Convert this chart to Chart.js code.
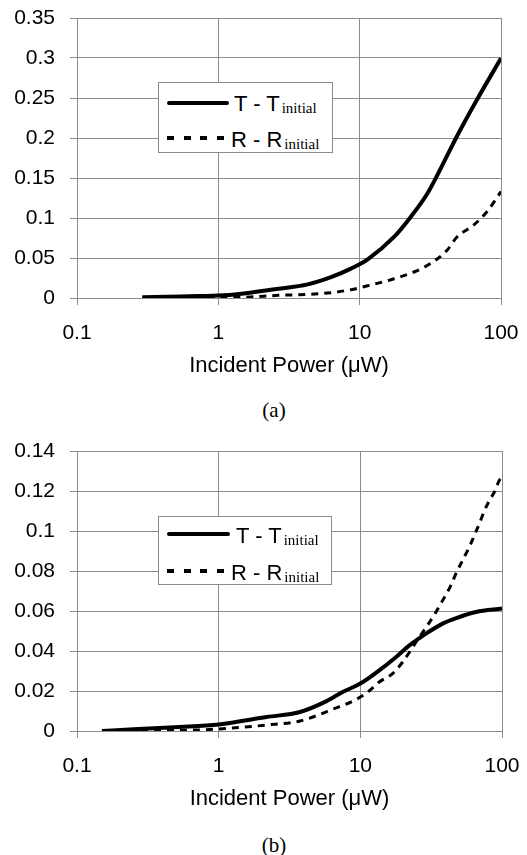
<!DOCTYPE html>
<html>
<head>
<meta charset="utf-8">
<script src="https://cdn.jsdelivr.net/npm/chart.js@4.4.1/dist/chart.umd.min.js"></script>
<style>
    body { margin: 0; background: #fff; }
    #wrap { position: relative; width: 527px; height: 855px; overflow: hidden; }
    canvas { position: absolute; left: 0; }
    .legend { position: absolute; border: 1px solid #8a8a8a; background: #fff; box-sizing: border-box; }
    .legend .swatch { position: absolute; height: 4px; }
    .legend .solid { background: #000; border-radius: 2px; }
    .legend .dash { background: repeating-linear-gradient(to right, #000 0 7px, transparent 7px 16.7px); }
    .legend .txt { position: absolute; font: 22px "Liberation Sans", Arial, sans-serif; line-height: 22px; white-space: nowrap; color: #000; }
    .legend sub { font: 15px "Liberation Serif", "Times New Roman", serif; vertical-align: -2px; margin-left: 2px; }
    .caption { position: absolute; left: 234px; width: 80px; text-align: center; font: 21px "Liberation Serif", "Times New Roman", serif; line-height: 24px; color: #000; }
</style>
</head>
<body>
<div id="wrap">
    <canvas id="chart-a" width="527" height="390" style="top:0px"></canvas>
    <div class="legend" style="left:158px;top:82px;width:175px;height:71px">
        <div class="swatch solid" style="left:8px;top:18px;width:62px"></div>
        <div class="txt" style="left:75px;top:10px">T - T<sub>initial</sub></div>
        <div class="swatch dash" style="left:8px;top:53px;width:57px"></div>
        <div class="txt" style="left:72px;top:46px">R - R<sub>initial</sub></div>
    </div>
    <div class="caption" style="top:398px">(a)</div>

    <canvas id="chart-b" width="527" height="390" style="top:433px"></canvas>
    <div class="legend" style="left:158px;top:516px;width:174px;height:69px">
        <div class="swatch solid" style="left:8px;top:15px;width:63px"></div>
        <div class="txt" style="left:77px;top:8px">T - T<sub>initial</sub></div>
        <div class="swatch dash" style="left:8px;top:52px;width:57px"></div>
        <div class="txt" style="left:72px;top:45px">R - R<sub>initial</sub></div>
    </div>
    <div class="caption" style="top:833px">(b)</div>
</div>

<script>
// Datos (potencia incidente en µW)
const xTicks = [0.1, 1, 10, 100];
const xTitle = 'Incident Power (\u03bcW)';

// (a)
const powerTa = [0.29, 0.54, 0.72, 1, 1.46, 2.5, 4.3, 6.27, 8.67, 11.4, 17.5, 22.9, 30, 35.3, 48.6, 67.4, 100];
const deltaTa = [0.001, 0.002, 0.0025, 0.003, 0.0054, 0.011, 0.017, 0.026, 0.0367, 0.0483, 0.0763, 0.101, 0.13, 0.153, 0.2016, 0.2475, 0.2996];
const powerRa = [0.29, 1, 1.54, 2.64, 4.3, 6.27, 8.67, 11.7, 17.5, 24.2, 31.7, 41.5, 48.8, 63.7, 79.2, 100];
const deltaRa = [0, 0.0005, 0.001, 0.0033, 0.0046, 0.0067, 0.0104, 0.0158, 0.024, 0.0325, 0.043, 0.0596, 0.0763, 0.0908, 0.1075, 0.133];
const yTicksA = { max: 0.35, step: 0.05 };

// (b)
const powerTb = [0.15, 0.25, 0.53, 1, 2.18, 3.75, 5.73, 7.5, 10, 13.6, 17.9, 22.2, 29.1, 38.1, 50, 65.5, 100];
const deltaTb = [0, 0.0009, 0.002, 0.0033, 0.007, 0.0095, 0.0148, 0.0195, 0.0237, 0.0303, 0.037, 0.0428, 0.0487, 0.0537, 0.057, 0.0595, 0.0612];
const powerRb = [0.15, 0.7, 1, 2.18, 3.75, 6.55, 9.07, 11.3, 13.6, 16.9, 19.9, 26.1, 29.9, 34.2, 38.1, 43.6, 47.3, 52.7, 58.8, 63.8, 69.2, 75, 81.5, 88.4, 95.7, 100];
const deltaRb = [0, 0.0005, 0.001, 0.003, 0.005, 0.0112, 0.0153, 0.0195, 0.0245, 0.0287, 0.0345, 0.047, 0.053, 0.0595, 0.0653, 0.0728, 0.0787, 0.0853, 0.092, 0.0978, 0.1037, 0.11, 0.1153, 0.1195, 0.1253, 0.127];
const yTicksB = { max: 0.14, step: 0.02 };

Chart.defaults.font.family = '"Liberation Sans", Arial, sans-serif';
Chart.defaults.color = '#000';

function toPoints(xs, ys) {
    return xs.map((x, i) => ({ x: x, y: ys[i] }));
}

// Quitar el relleno automático de las escalas: el área del gráfico la fija layout.padding
function noScalePadding(scale) {
    scale.paddingTop = 0;
    scale.paddingBottom = 0;
    scale.paddingLeft = 0;
    scale.paddingRight = 0;
}

function initPowerChart(id, powerT, deltaT, powerR, deltaR, yTicks, padRight) {
    const ctx = document.getElementById(id);
    const gridColor = '#8c8c8c';

    new Chart(ctx, {
        type: 'line',
        data: {
            datasets: [{
                label: 'T - T initial',
                data: toPoints(powerT, deltaT),
                borderColor: '#000',
                borderWidth: 4,
                pointRadius: 0,
                cubicInterpolationMode: 'monotone',
                fill: false
            }, {
                label: 'R - R initial',
                data: toPoints(powerR, deltaR),
                borderColor: '#000',
                borderWidth: 3,
                borderDash: [7, 6],
                pointRadius: 0,
                cubicInterpolationMode: 'monotone',
                fill: false
            }]
        },
        options: {
            responsive: false,
            animation: false,
            devicePixelRatio: 1,
            layout: {
                padding: { top: 18, right: padRight, bottom: 2, left: 0 }
            },
            plugins: {
                legend: { display: false },
                tooltip: { enabled: false }
            },
            scales: {
                x: {
                    type: 'logarithmic',
                    min: 0.1,
                    max: 100,
                    afterBuildTicks: function(scale) {
                        scale.ticks = xTicks.map(v => ({ value: v, major: true }));
                    },
                    afterFit: function(scale) {
                        scale.height = 90;
                        noScalePadding(scale);
                    },
                    grid: {
                        color: gridColor,
                        lineWidth: 1,
                        tickLength: 7
                    },
                    border: { color: gridColor, width: 1 },
                    ticks: {
                        padding: 16,
                        maxRotation: 0,
                        font: { size: 21 },
                        callback: function(value) {
                            return String(value);
                        }
                    },
                    title: {
                        display: true,
                        text: xTitle,
                        font: { size: 22 },
                        padding: { top: 0, bottom: 9 }
                    }
                },
                y: {
                    min: 0,
                    max: yTicks.max,
                    afterFit: function(scale) {
                        scale.width = 77;
                        noScalePadding(scale);
                    },
                    grid: {
                        color: gridColor,
                        lineWidth: 1,
                        tickLength: 7
                    },
                    border: { color: gridColor, width: 1 },
                    ticks: {
                        stepSize: yTicks.step,
                        padding: 15,
                        font: { size: 21 },
                        callback: function(value) {
                            return String(+value.toFixed(3));
                        }
                    }
                }
            }
        }
    });
}

document.addEventListener('DOMContentLoaded', function() {
    initPowerChart('chart-a', powerTa, deltaTa, powerRa, deltaRa, yTicksA, 26);
    initPowerChart('chart-b', powerTb, deltaTb, powerRb, deltaRb, yTicksB, 25);
});
</script>
</body>
</html>
